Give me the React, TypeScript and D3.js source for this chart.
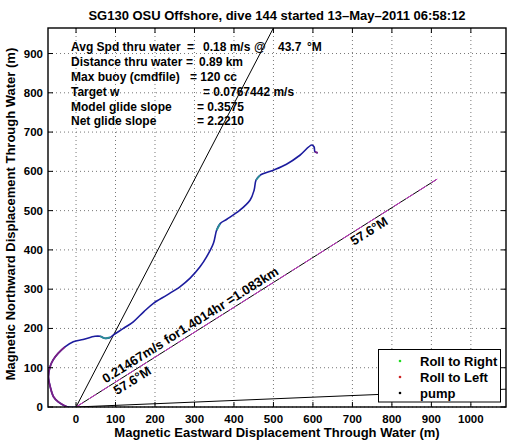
import React from 'react';
import * as d3 from 'd3';

const titleText = 'SG130 OSU Offshore, dive 144 started 13\u2013May\u20132011 06:58:12';
const xLabel = 'Magnetic Eastward Displacement Through Water (m)';
const yLabel = 'Magnetic Northward Displacement Through Water (m)';
const xTicks = [0, 100, 200, 300, 400, 500, 600, 700, 800, 900, 1000];
const yTicks = [0, 100, 200, 300, 400, 500, 600, 700, 800, 900];
const xDomain = [-71, 1089];
const yDomain = [0, 965];

// glider track (m east, m north)
const pathX = [0, -23, -45, -57, -65, -70, -66, -58, -45, -28, -7, 18, 48, 61, 73, 86, 94, 120, 145, 172, 196, 230, 263, 289, 314, 331, 348, 356, 365, 382, 415, 441, 451, 456, 466, 500, 533, 567, 597, 603, 605, 612];
const pathY = [0, 0.5, 13, 26, 50, 77, 102, 120, 137, 153, 166, 172, 180, 180, 175, 177, 183, 200, 217, 243, 264, 285, 306, 328, 357, 383, 417, 450, 467, 478, 501, 527, 552, 578, 590, 603, 618, 641, 667, 662, 650, 647];
const purpleRanges = [[1, 9], [40, 41]];
const cyanRanges = [[13, 15], [27, 28], [33, 34]];

const glideLine = [[0, 0], [560, 1081]];
const bottomLine = [[0, 0], [1200, 50]];
const courseEnd = [914.5, 580.2];
const courseLabel = '0.21467m/s for1.4014hr =1.083km';
const headingLabel = '57.6\u00b0M';

const infoNames = ['Avg Spd thru water', 'Distance thru water', 'Max buoy (cmdfile)', 'Target w', 'Model glide slope', 'Net glide slope'];
const infoPieces = [
  ['=', '0.18 m/s', '@', '43.7', '\u00b0M'],
  ['=', '0.89 km'],
  ['= 120 cc'],
  ['= 0.0767442 m/s'],
  ['= 0.3575'],
  ['= 2.2210'],
];
const infoPieceX = [
  [187, 203, 254, 278, 307],
  [186, 199],
  [190],
  [203],
  [197],
  [197],
];

const legendLabels = ['Roll to Right', 'Roll to Left', 'pump'];
const legendColors = ['#22dd22', '#cc2222', '#000000'];

const FONT = '"Liberation Sans", Arial, Helvetica, sans-serif';

export default function App() {
  const L = 48, R = 506, T = 28, B = 407;
  const x = d3.scaleLinear().domain(xDomain).range([L, R]);
  const y = d3.scaleLinear().domain(yDomain).range([B, T]);
  const line = d3.line<number>().x((i) => x(pathX[i])).y((i) => y(pathY[i])).curve(d3.curveCatmullRom.alpha(0.5));
  const idx = pathX.map((_, i) => i);
  const rangeIdx = (r: number[]) => d3.range(r[0], r[1] + 1);

  const dx = x(courseEnd[0]) - x(0);
  const dy = y(courseEnd[1]) - y(0);
  const ang = (Math.atan2(dy, dx) * 180) / Math.PI;
  const along = (frac: number) => [x(courseEnd[0] * frac), y(courseEnd[1] * frac)];
  const p1 = along(0.088);
  const p2 = along(0.096);
  const p3 = along(0.752);

  return (
    <svg width={514} height={442} style={{ position: 'absolute', left: 0, top: 0, background: '#fff' }} fontFamily={FONT} fontWeight="bold">
      <defs>
        <clipPath id="plotclip">
          <rect x={L} y={T} width={R - L} height={B - T} />
        </clipPath>
      </defs>
      <rect x={0} y={0} width={514} height={442} fill="#fff" />
      {/* grid */}
      {xTicks.map((t) => (
        <line key={'gx' + t} x1={x(t)} x2={x(t)} y1={T} y2={B} stroke="#777" strokeWidth={1} strokeDasharray="1,3" />
      ))}
      {yTicks.map((t) => (
        <line key={'gy' + t} x1={L} x2={R} y1={y(t)} y2={y(t)} stroke="#777" strokeWidth={1} strokeDasharray="1,3" />
      ))}
      <g clipPath="url(#plotclip)">
        <line x1={x(glideLine[0][0])} y1={y(glideLine[0][1])} x2={x(glideLine[1][0])} y2={y(glideLine[1][1])} stroke="#000" strokeWidth={1} />
        <line x1={x(bottomLine[0][0])} y1={y(bottomLine[0][1])} x2={x(bottomLine[1][0])} y2={y(bottomLine[1][1])} stroke="#000" strokeWidth={1} />
        <line x1={x(0)} y1={y(0)} x2={x(courseEnd[0])} y2={y(courseEnd[1])} stroke="#000" strokeWidth={1} />
        <line x1={x(0)} y1={y(0)} x2={x(courseEnd[0])} y2={y(courseEnd[1])} stroke="#cc33cc" strokeWidth={1} strokeDasharray="9,6" />
        <path d={line(idx) || ''} fill="none" stroke="#1c1c9e" strokeWidth={1.6} strokeLinejoin="round" />
        {purpleRanges.map((r, k) => (
          <path key={'p' + k} d={line(rangeIdx(r)) || ''} fill="none" stroke="#7a1f86" strokeWidth={1.8} strokeLinejoin="round" />
        ))}
        {cyanRanges.map((r, k) => (
          <path key={'c' + k} d={line(rangeIdx(r)) || ''} fill="none" stroke="#2a8f96" strokeWidth={1.8} strokeLinejoin="round" />
        ))}
      </g>
      {/* course labels */}
      <text transform={`translate(${p1[0]},${p1[1]}) rotate(${ang})`} dy={-4} fontSize={13}>{courseLabel}</text>
      <text transform={`translate(${p2[0]},${p2[1]}) rotate(${ang})`} dy={12} fontSize={13}>{headingLabel}</text>
      <text transform={`translate(${p3[0]},${p3[1]}) rotate(${ang})`} dy={12} fontSize={13}>{headingLabel}</text>
      {/* info block */}
      {infoNames.map((n, i) => (
        <g key={'info' + i} fontSize={12}>
          <text x={71} y={51.3 + i * 14.8}>{n}</text>
          {infoPieces[i].map((s, j) => (
            <text key={j} x={infoPieceX[i][j]} y={51.3 + i * 14.8}>{s}</text>
          ))}
        </g>
      ))}
      {/* axes box and ticks */}
      <rect x={L} y={T} width={R - L} height={B - T} fill="none" stroke="#000" strokeWidth={1.4} />
      {xTicks.map((t) => (
        <g key={'tx' + t}>
          <line x1={x(t)} x2={x(t)} y1={B} y2={B - 5} stroke="#000" />
          <line x1={x(t)} x2={x(t)} y1={T} y2={T + 5} stroke="#000" />
          <text x={x(t)} y={B + 16} textAnchor="middle" fontSize={11.5}>{t}</text>
        </g>
      ))}
      {yTicks.map((t) => (
        <g key={'ty' + t}>
          <line x1={L} x2={L + 5} y1={y(t)} y2={y(t)} stroke="#000" />
          <line x1={R} x2={R - 5} y1={y(t)} y2={y(t)} stroke="#000" />
          <text x={L - 5} y={y(t) + 4} textAnchor="end" fontSize={11.5}>{t}</text>
        </g>
      ))}
      {/* legend */}
      <rect x={378.5} y={349.5} width={122} height={52.5} fill="#fff" stroke="#000" strokeWidth={1} />
      {legendLabels.map((lab, i) => (
        <g key={'lg' + i}>
          <circle cx={400} cy={361 + i * 16} r={1.3} fill={legendColors[i]} />
          <text x={420} y={365.5 + i * 16} fontSize={13}>{lab}</text>
        </g>
      ))}
      {/* title and labels */}
      <text x={277} y={20} textAnchor="middle" fontSize={13}>{titleText}</text>
      <text x={277} y={437} textAnchor="middle" fontSize={13}>{xLabel}</text>
      <text transform={`translate(15,214) rotate(-90)`} textAnchor="middle" fontSize={13}>{yLabel}</text>
    </svg>
  );
}
